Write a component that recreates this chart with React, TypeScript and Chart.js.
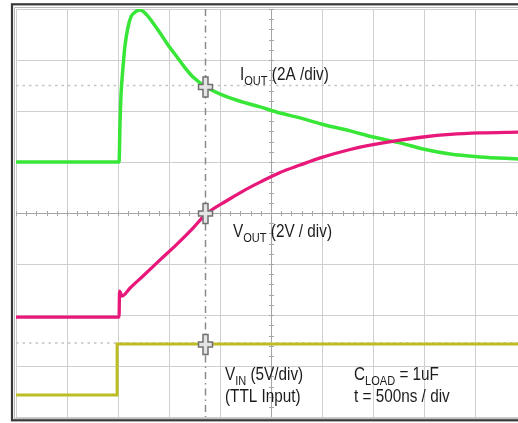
import React, { useEffect, useRef } from "react";
import { Chart, registerables } from "chart.js";

Chart.register(...registerables);

// Time base: 500 ns / div  (values in microseconds)
const DIV_US = 0.5;
const TIME_MAX_US = 4.92;

// I_OUT trace (A), 2 A / div
const ioutTimeUs = [0, 1.01, 1.02, 1.029, 1.049, 1.069, 1.098, 1.127, 1.167, 1.216, 1.284, 1.343, 1.412, 1.49, 1.578, 1.657, 1.735, 1.863, 2.069, 2.225, 2.392, 2.588, 2.784, 2.99, 3.275, 3.5, 3.765, 3.99, 4.255, 4.549, 4.922];
const ioutAmps = [0, 0, 1.65, 2.63, 3.73, 4.59, 5.29, 5.69, 5.88, 5.96, 5.76, 5.45, 5.06, 4.59, 4.12, 3.69, 3.33, 2.94, 2.55, 2.35, 2.16, 1.92, 1.73, 1.49, 1.22, 0.98, 0.75, 0.51, 0.31, 0.2, 0.12];

// V_OUT trace (V), 2 V / div
const voutTimeUs = [0, 1.01, 1.015, 1.039, 1.118, 1.245, 1.412, 1.578, 1.735, 1.863, 2.069, 2.225, 2.392, 2.588, 2.784, 2.99, 3.275, 3.5, 3.765, 3.99, 4.255, 4.549, 4.922];
const voutVolts = [0, 0, 1.02, 0.82, 1.14, 1.61, 2.24, 2.86, 3.49, 4.04, 4.57, 4.94, 5.29, 5.67, 5.96, 6.25, 6.57, 6.76, 6.94, 7.06, 7.16, 7.22, 7.25];

// V_IN trace (V), 5 V / div (TTL input)
const vinTimeUs = [0, 0.99, 0.991, 4.922];
const vinVolts = [0, 0, 5, 5];

// Cursor
const cursorTimeUs = 1.853;
const cursorIout = 2.94;
const cursorVout = 4.06;
const cursorVin = 4.95;
const refIoutLevel = 3.0;
const refVinLevel = 5.1;

const COLORS = {
  iout: "#38e638",
  vout: "#e8187a",
  vin: "#bdbc22",
  grid: "#cfcfcf",
  axis: "#a6a6a6",
  text: "#1c1c1c",
};

const FONT = '"Liberation Sans", Arial, sans-serif';

type Part = { t: string; sub?: boolean };

function drawParts(ctx: CanvasRenderingContext2D, x: number, y: number, parts: Part[]) {
  ctx.save();
  ctx.translate(x, y);
  ctx.scale(0.85, 1);
  ctx.fillStyle = COLORS.text;
  ctx.textBaseline = "alphabetic";
  let cx = 0;
  for (const p of parts) {
    ctx.font = p.sub ? `13px ${FONT}` : `18px ${FONT}`;
    ctx.fillText(p.t, cx, p.sub ? 5 : 0);
    cx += ctx.measureText(p.t).width;
  }
  ctx.restore();
}

function drawCross(ctx: CanvasRenderingContext2D, cx: number, cy: number) {
  ctx.save();
  const a = 2.5;
  const v = 10;
  const h = 7;
  ctx.beginPath();
  ctx.moveTo(cx - a, cy - v);
  ctx.lineTo(cx + a, cy - v);
  ctx.lineTo(cx + a, cy - a);
  ctx.lineTo(cx + h, cy - a);
  ctx.lineTo(cx + h, cy + a);
  ctx.lineTo(cx + a, cy + a);
  ctx.lineTo(cx + a, cy + v);
  ctx.lineTo(cx - a, cy + v);
  ctx.lineTo(cx - a, cy + a);
  ctx.lineTo(cx - h, cy + a);
  ctx.lineTo(cx - h, cy - a);
  ctx.lineTo(cx - a, cy - a);
  ctx.closePath();
  ctx.fillStyle = "#e4e4e4";
  ctx.fill();
  ctx.lineWidth = 1.5;
  ctx.strokeStyle = "#707070";
  ctx.stroke();
  ctx.restore();
}

export default function App() {
  const ref = useRef<HTMLCanvasElement>(null);

  useEffect(() => {
    const canvas = ref.current;
    if (!canvas) return;
    const pts = (xs: number[], ys: number[]) => xs.map((x, i) => ({ x, y: ys[i] }));

    const scopePlugin = {
      id: "scope",
      beforeDraw(chart: any) {
        const ctx = chart.ctx as CanvasRenderingContext2D;
        ctx.save();
        ctx.fillStyle = "#ffffff";
        ctx.fillRect(0, 0, chart.width, chart.height);
        ctx.restore();
      },
      beforeDatasetsDraw(chart: any) {
        const ctx = chart.ctx as CanvasRenderingContext2D;
        const xs = chart.scales.x;
        const ys = chart.scales.y;
        const { left, right, top, bottom } = chart.chartArea;
        const divPx = xs.getPixelForValue(DIV_US) - xs.getPixelForValue(0);
        const cy = Math.round(ys.getPixelForValue(4)) + 0.5;
        const cx = Math.round(xs.getPixelForValue(2.5)) + 0.5;
        ctx.save();
        ctx.strokeStyle = COLORS.axis;
        ctx.lineWidth = 1;
        ctx.beginPath();
        ctx.moveTo(left, cy);
        ctx.lineTo(right, cy);
        ctx.moveTo(cx, top);
        ctx.lineTo(cx, bottom);
        for (let k = 0; k <= 60; k++) {
          const x = left + (k * divPx) / 5;
          if (x > right) break;
          ctx.moveTo(Math.round(x) + 0.5, cy - 2.5);
          ctx.lineTo(Math.round(x) + 0.5, cy + 2.5);
        }
        for (let k = 0; k <= 40; k++) {
          const y = top + (k * divPx) / 5;
          if (y > bottom) break;
          ctx.moveTo(cx - 2.5, Math.round(y) + 0.5);
          ctx.lineTo(cx + 2.5, Math.round(y) + 0.5);
        }
        ctx.stroke();

        // dotted reference levels
        ctx.strokeStyle = "#c4c4c4";
        ctx.lineWidth = 1.5;
        ctx.setLineDash([2.5, 4]);
        const yRef1 = chart.scales.yI.getPixelForValue(refIoutLevel);
        const yRef2 = chart.scales.yIn.getPixelForValue(refVinLevel);
        ctx.beginPath();
        ctx.moveTo(left, yRef1);
        ctx.lineTo(right, yRef1);
        ctx.moveTo(left, yRef2);
        ctx.lineTo(right, yRef2);
        ctx.stroke();

        // vertical time cursor (dash-dot)
        const xc = Math.round(xs.getPixelForValue(cursorTimeUs)) + 0.5;
        ctx.strokeStyle = "#8a8a8a";
        ctx.lineWidth = 1.5;
        ctx.setLineDash([7, 4, 1.5, 4]);
        ctx.beginPath();
        ctx.moveTo(xc, top);
        ctx.lineTo(xc, bottom);
        ctx.stroke();
        ctx.restore();
      },
      afterDatasetsDraw(chart: any) {
        const ctx = chart.ctx as CanvasRenderingContext2D;
        const xs = chart.scales.x;
        const xc = Math.round(xs.getPixelForValue(cursorTimeUs)) + 0.5;
        drawCross(ctx, xc, chart.scales.yI.getPixelForValue(cursorIout));
        drawCross(ctx, xc, chart.scales.yV.getPixelForValue(cursorVout));
        drawCross(ctx, xc, chart.scales.yIn.getPixelForValue(cursorVin));

        drawParts(ctx, 240, 80, [{ t: "I" }, { t: "OUT", sub: true }, { t: " (2A /div)" }]);
        drawParts(ctx, 233, 237, [{ t: "V" }, { t: "OUT", sub: true }, { t: " (2V / div)" }]);
        drawParts(ctx, 225, 380, [{ t: "V" }, { t: "IN", sub: true }, { t: " (5V/div)" }]);
        drawParts(ctx, 225, 402, [{ t: "(TTL Input)" }]);
        drawParts(ctx, 354, 380, [{ t: "C" }, { t: "LOAD", sub: true }, { t: " = 1uF" }]);
        drawParts(ctx, 354, 402, [{ t: "t = 500ns / div" }]);

        // instrument frame
        ctx.save();
        ctx.strokeStyle = "#383838";
        ctx.lineWidth = 2.2;
        ctx.strokeRect(12, 4.3, 700, 416);
        ctx.strokeStyle = "#bdbdbd";
        ctx.lineWidth = 1;
        ctx.strokeRect(14.5, 7.5, 700, 411);
        ctx.restore();
      },
    };

    const noSize = (s: any) => {
      s.width = s.isHorizontal() ? s.width : 0;
      s.height = s.isHorizontal() ? 0 : s.height;
    };

    const chart = new Chart(canvas, {
      type: "line",
      data: {
        datasets: [
          {
            label: "VIN",
            data: pts(vinTimeUs, vinVolts),
            yAxisID: "yIn",
            borderColor: COLORS.vin,
            borderWidth: 3,
            pointRadius: 0,
            tension: 0,
          },
          {
            label: "VOUT",
            data: pts(voutTimeUs, voutVolts),
            yAxisID: "yV",
            borderColor: COLORS.vout,
            borderWidth: 3.3,
            pointRadius: 0,
            cubicInterpolationMode: "monotone",
          },
          {
            label: "IOUT",
            data: pts(ioutTimeUs, ioutAmps),
            yAxisID: "yI",
            borderColor: COLORS.iout,
            borderWidth: 3.5,
            pointRadius: 0,
            cubicInterpolationMode: "monotone",
          },
        ],
      },
      options: {
        animation: false,
        responsive: false,
        maintainAspectRatio: false,
        devicePixelRatio: 1,
        events: [],
        layout: { padding: { left: 16, top: 9, right: 0, bottom: 6 } },
        plugins: { legend: { display: false }, tooltip: { enabled: false } },
        scales: {
          x: {
            type: "linear",
            min: 0,
            max: TIME_MAX_US,
            ticks: { display: false, stepSize: DIV_US },
            grid: { color: COLORS.grid, lineWidth: 1, drawTicks: false },
            border: { display: false },
            afterBuildTicks: (s: any) => {
              s.ticks = s.ticks.filter((t: any) => Math.abs(t.value / DIV_US - Math.round(t.value / DIV_US)) < 1e-6);
            },
            afterFit: noSize,
          },
          y: {
            type: "linear",
            min: 0,
            max: 8,
            ticks: { display: false, stepSize: 1 },
            grid: { color: COLORS.grid, lineWidth: 1, drawTicks: false },
            border: { display: false },
            afterFit: noSize,
          },
          yI: { type: "linear", display: false, min: -10, max: 6 },
          yV: { type: "linear", display: false, min: -3.92, max: 12.08 },
          yIn: { type: "linear", display: false, min: -2.16, max: 37.84 },
        },
      } as any,
      plugins: [scopePlugin],
    });
    return () => chart.destroy();
  }, []);

  return (
    <div style={{ position: "fixed", left: 0, top: 0, width: 518, height: 423, background: "#fff", overflow: "hidden" }}>
      <canvas ref={ref} width={518} height={423} style={{ display: "block", width: 518, height: 423 }} />
    </div>
  );
}
